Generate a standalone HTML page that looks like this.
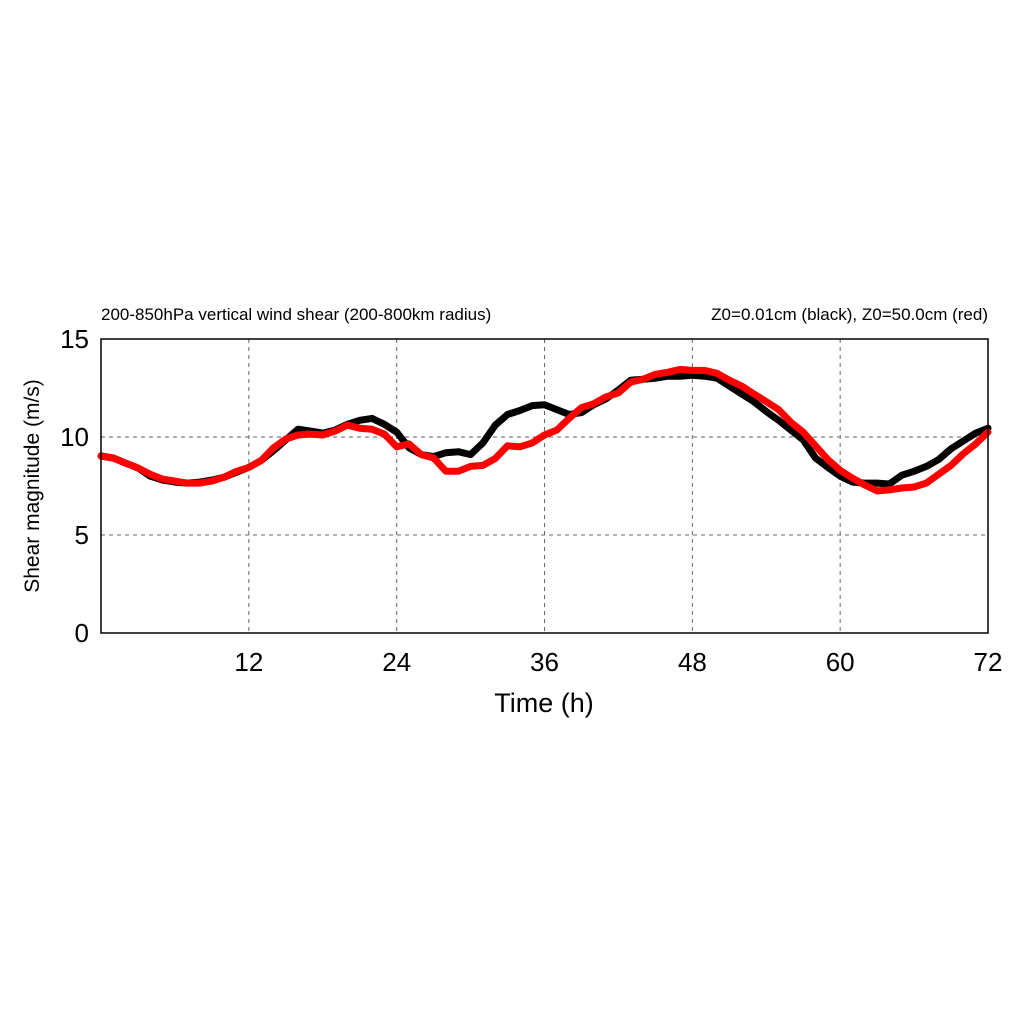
<!DOCTYPE html>
<html><head><meta charset="utf-8"><style>
body{margin:0;background:#fff;}
svg text{font-family:"Liberation Sans",sans-serif;}
</style></head><body>
<svg id="chart" width="1024" height="1024" xmlns="http://www.w3.org/2000/svg">
<rect width="1024" height="1024" fill="#fff"/>
<g id="grid"></g>
<g id="series"></g>
<rect x="101" y="339" width="887" height="294" fill="none" stroke="#000" stroke-width="1.5"/>
<g id="ticks"></g>
<text x="101" y="320" font-size="17">200-850hPa vertical wind shear (200-800km radius)</text>
<text x="988" y="320" font-size="17" text-anchor="end">Z0=0.01cm (black), Z0=50.0cm (red)</text>
<text x="544" y="712" font-size="27" text-anchor="middle">Time (h)</text>
<text transform="translate(39,486) rotate(-90)" font-size="21" text-anchor="middle">Shear magnitude (m/s)</text>
</svg>
<script>
const xTicks=[12,24,36,48,60,72];
const yTicks=[0,5,10,15];
const blackSeries=[9.03,8.93,8.67,8.42,8.0,7.8,7.7,7.65,7.7,7.8,7.95,8.2,8.45,8.8,9.3,9.85,10.4,10.3,10.2,10.35,10.65,10.85,10.95,10.65,10.25,9.45,9.1,9.0,9.2,9.25,9.1,9.7,10.6,11.15,11.35,11.6,11.65,11.4,11.15,11.25,11.65,11.95,12.4,12.9,12.95,13.0,13.1,13.1,13.15,13.1,13.0,12.6,12.2,11.8,11.3,10.85,10.35,9.85,8.93,8.45,8.0,7.7,7.65,7.65,7.6,8.05,8.25,8.5,8.85,9.4,9.8,10.2,10.45];
const redSeries=[9.03,8.93,8.67,8.42,8.1,7.85,7.75,7.65,7.65,7.75,7.95,8.25,8.45,8.8,9.45,9.9,10.1,10.15,10.1,10.3,10.6,10.45,10.4,10.15,9.5,9.65,9.1,8.93,8.25,8.25,8.5,8.55,8.9,9.55,9.5,9.7,10.1,10.35,10.95,11.5,11.7,12.05,12.25,12.8,12.95,13.2,13.3,13.45,13.4,13.4,13.25,12.9,12.6,12.2,11.8,11.4,10.75,10.25,9.55,8.85,8.3,7.9,7.55,7.25,7.3,7.4,7.45,7.65,8.1,8.55,9.15,9.65,10.25];
const X0=101,X1=988,Y0=633,Y1=339;
const xs=t=>X0+(X1-X0)*t/72;
const ys=v=>Y0-(Y0-Y1)*v/15;
const NS="http://www.w3.org/2000/svg";
const grid=document.getElementById('grid'),ticks=document.getElementById('ticks'),series=document.getElementById('series');
function mk(tag,attrs,parent){const e=document.createElementNS(NS,tag);for(const k in attrs)e.setAttribute(k,attrs[k]);parent.appendChild(e);return e;}
xTicks.forEach(t=>{
  if(t<72){const l=mk('line',{x1:xs(t),x2:xs(t),y1:Y1,y2:Y0,stroke:'#666','stroke-dasharray':'4,4'},grid);
  
  }
  const tx=mk('text',{x:xs(t),y:671,'font-size':26,'text-anchor':'middle'},ticks);tx.textContent=t;
  
  
});
yTicks.forEach(v=>{
  if(v>0&&v<15){const l=mk('line',{x1:X0,x2:X1,y1:ys(v),y2:ys(v),stroke:'#666','stroke-dasharray':'4,4'},grid);
  
  }
  const tx=mk('text',{x:89,y:ys(v)+9,'font-size':26,'text-anchor':'end'},ticks);tx.textContent=v;
  
  
});
function line(data,color,name){
  const d=data.map((v,i)=>(i?'L':'M')+xs(i*72/(data.length-1)).toFixed(1)+','+ys(v).toFixed(1)).join('');
  const p=mk('path',{d:d,fill:'none',stroke:color,'stroke-width':7,'stroke-linejoin':'round','stroke-linecap':'round'},series);
  
  
}
line(blackSeries,'#000','black-series-line');
line(redSeries,'#f00','red-series-line');
</script>
</body></html>
